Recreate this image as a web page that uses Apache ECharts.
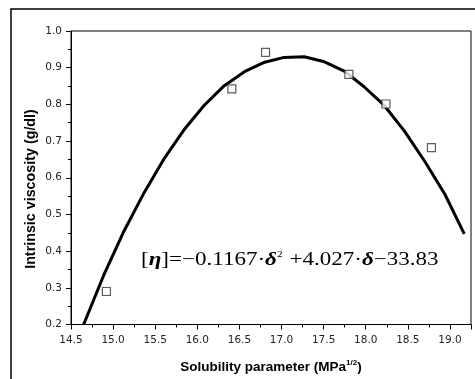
<!DOCTYPE html>
<html><head><meta charset="utf-8">
<script src="https://cdn.jsdelivr.net/npm/echarts@6/dist/echarts.min.js"></script>
<style>html,body{margin:0;padding:0;background:#fff}#c{width:475px;height:379px}</style>
</head><body><div id="c"></div>
<script>
// Measured data points (δ, [η])
const expX = [14.92, 16.41, 16.81, 17.80, 18.24, 18.78];
const expY = [0.29, 0.842, 0.942, 0.882, 0.801, 0.682];
// Fitted curve as drawn
const fitX = [14.65, 14.89, 15.13, 15.37, 15.60, 15.84, 16.08, 16.32, 16.56, 16.80, 17.03, 17.27, 17.51, 17.75, 17.98, 18.22, 18.46, 18.70, 18.94, 19.17];
const fitY = [0.20, 0.335, 0.455, 0.56, 0.65, 0.73, 0.797, 0.851, 0.889, 0.915, 0.928, 0.93, 0.916, 0.89, 0.848, 0.797, 0.727, 0.645, 0.555, 0.447];
const xTitle = 'Solubility parameter (MPa';
const yTitle = 'Intrinsic viscosity (g/dl)';

const chart = echarts.init(document.getElementById('c'), null, {renderer: 'canvas'});
const sans = 'Liberation Sans, Arial, sans-serif';
const tickFont = 'DejaVu Sans, Liberation Sans, sans-serif';
const serif = 'Liberation Serif, Times New Roman, serif';
chart.setOption({
  animation: false,
  grid: {left: 71, right: 4, top: 31, bottom: 53, show: true, borderColor: '#000', borderWidth: 1},
  xAxis: {
    type: 'value', min: 14.5, max: 19.25, interval: 0.5,
    axisLine: {lineStyle: {color: '#000', width: 1}},
    axisTick: {inside: false, length: 5, lineStyle: {color: '#000'}},
    minorTick: {show: true, splitNumber: 2, length: 3, lineStyle: {color: '#000'}},
    splitLine: {show: false},
    axisLabel: {showMaxLabel: false, color: '#222', fontFamily: tickFont, fontSize: 10.5, margin: 10, formatter: v => v.toFixed(1)},
    name: '{t|' + xTitle + '}{s|1/2}{t|)}', nameLocation: 'middle', nameGap: 34,
    nameTextStyle: {rich: {
      t: {fontFamily: sans, fontWeight: 'bold', fontSize: 13.5, color: '#000'},
      s: {fontFamily: sans, fontWeight: 'bold', fontSize: 8, color: '#000', verticalAlign: 'top', padding: [0,0,9,0]}
    }}
  },
  yAxis: {
    type: 'value', min: 0.2, max: 1.0, interval: 0.1,
    axisLine: {show: true, lineStyle: {color: '#000', width: 1}},
    axisTick: {show: true, inside: false, length: 5, lineStyle: {color: '#000'}},
    minorTick: {show: true, splitNumber: 2, length: 3, lineStyle: {color: '#000'}},
    splitLine: {show: false},
    axisLabel: {color: '#222', fontFamily: tickFont, fontSize: 10.5, margin: 9, formatter: v => v.toFixed(1)}
  },
  series: [
    {type: 'line', data: fitX.map((x, i) => [x, fitY[i]]), showSymbol: false, smooth: false,
     lineStyle: {color: '#000', width: 3}, z: 2},
    {type: 'scatter', data: expX.map((x, i) => [x, expY[i]]), symbol: 'rect', symbolSize: 8,
     itemStyle: {color: '#fff', borderColor: '#333', borderWidth: 1.2}, z: 3}
  ],
  graphic: [
    {type: 'rect', shape: {x: 11, y: 9, width: 480, height: 390}, style: {fill: 'none', stroke: '#000', lineWidth: 1.5}, silent: true},
    {type: 'text', x: 31, y: 189, rotation: Math.PI / 2,
     style: {text: yTitle, fontFamily: sans, fontWeight: 'bold', fontSize: 14.3, fill: '#000', align: 'center', verticalAlign: 'middle'}},
    {type: 'text', x: 141, y: 260, scaleX: 1.245, scaleY: 1,
     style: {
       text: '{r|[}{b|η}{r|]=−0.1167·}{b|δ}{p|2}{r| +4.027·}{b|δ}{r|−33.83}',
       verticalAlign: 'middle',
       rich: {
         r: {fontFamily: serif, fontSize: 18.5, fill: '#000'},
         b: {fontFamily: serif, fontSize: 18.5, fontStyle: 'italic', fontWeight: 'bold', fill: '#000'},
         p: {fontFamily: serif, fontSize: 9, fill: '#000', verticalAlign: 'top', padding: [0,1,10,0]}
       }
     }}
  ]
});
</script></body></html>
